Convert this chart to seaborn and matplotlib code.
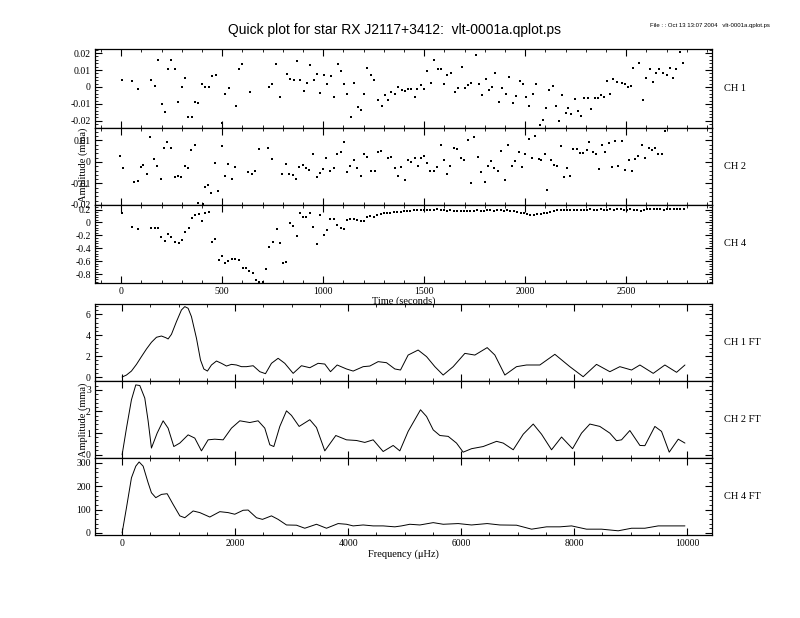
import numpy as np
import pandas as pd
import matplotlib
matplotlib.use("Agg")
import matplotlib.pyplot as plt
import seaborn as sns
from matplotlib.ticker import MultipleLocator, AutoMinorLocator, NullFormatter, FuncFormatter

# ---------------- data ----------------
ch1_t = [5, 53, 82, 148, 165, 181, 200, 216, 231, 248, 267, 282, 299, 315, 332, 348, 365, 381, 398, 417,
         434, 450, 467, 500, 516, 533, 566, 582, 599, 635, 731, 747, 767, 787, 820, 837, 853, 870, 886, 903,
         919, 936, 952, 969, 985, 1005, 1021, 1038, 1054, 1071, 1087, 1104, 1120, 1137, 1153, 1170, 1186, 1203,
         1219, 1236, 1252, 1272, 1289, 1305, 1322, 1338, 1355, 1371, 1388, 1404, 1421, 1437, 1454, 1465, 1482,
         1498, 1516, 1533, 1549, 1566, 1582, 1599, 1615, 1632, 1652, 1668, 1685, 1701, 1718, 1734, 1754, 1771,
         1787, 1804, 1820, 1837, 1853, 1870, 1886, 1903, 1919, 1939, 1956, 1972, 1989, 2005, 2021, 2038, 2054,
         2071, 2087, 2104, 2120, 2137, 2153, 2167, 2183, 2200, 2213, 2229, 2246, 2262, 2276, 2292, 2309, 2325,
         2345, 2361, 2375, 2391, 2404, 2421, 2437, 2454, 2477, 2494, 2510, 2523, 2536, 2563, 2583, 2599, 2616,
         2632, 2649, 2665, 2682, 2702, 2715, 2731, 2748, 2765, 2781]
ch1_v = [0.004, 0.0034, -0.0012, 0.0044, 0.0004, 0.0158, -0.010, -0.0145, 0.0105, 0.0158, 0.0105, -0.0091,
         0.0, 0.0053, -0.0178, -0.0178, -0.0091, -0.0097, 0.0016, -0.0002, -0.0002, 0.0065, 0.0073, -0.021,
         -0.0044, -0.0008, -0.011, 0.0107, 0.0133, -0.003, -0.0002, 0.0018, 0.0133, -0.0059, 0.0077, 0.0046,
         0.0042, 0.0154, 0.0042, -0.0022, 0.0024, 0.0129, 0.0042, 0.0079, -0.0036, 0.0073, 0.0018, 0.0065,
         -0.0061, 0.0133, 0.0093, 0.0016, -0.0044, -0.0178, 0.0022, -0.0117, -0.0137, -0.0044, 0.0111, 0.0071,
         0.004, -0.0079, -0.0115, -0.005, -0.0079, -0.0032, -0.004, -0.0002, -0.002, -0.0024, -0.001, -0.0014,
         -0.0061, -0.0012, 0.001, -0.001, 0.0095, 0.0024, 0.0158, 0.0107, 0.0107, 0.0018, 0.0071, 0.0085,
         -0.0028, -0.0008, 0.0115, -0.0008, 0.0014, 0.0026, 0.0188, 0.0016, -0.005, 0.0048, -0.0016, 0.0,
         0.0081, -0.0091, -0.0006, -0.0042, 0.0057, -0.0095, -0.0055, 0.0034, 0.0016, -0.0057, -0.0113,
         -0.0044, 0.0016, -0.0224, -0.0194, -0.0125, -0.0016, 0.0006, -0.0115, -0.0202, -0.005, -0.0156,
         -0.0125, -0.0158, -0.0069, -0.0141, -0.0174, -0.0063, -0.0063, -0.0129, -0.0067, -0.0063, -0.0048,
         -0.0059, 0.0036, -0.004, 0.0048, 0.0032, 0.0024, 0.002, -0.0002, 0.0008, 0.0109, 0.0139, -0.0079,
         0.0053, 0.0105, 0.0032, 0.0081, 0.0105, 0.0081, 0.0073, 0.0113, 0.0053, 0.0105, 0.0204, 0.0141]

ch2_t = [-5, 10, 61, 82, 96, 110, 129, 144, 162, 178, 195, 211, 228, 244, 264, 281, 297, 314, 330, 347, 363,
         380, 403, 413, 429, 446, 462, 479, 498, 515, 531, 548, 564, 630, 647, 663, 680, 729, 746, 795, 815,
         832, 848, 865, 881, 898, 914, 931, 950, 967, 983, 1000, 1016, 1033, 1053, 1069, 1086, 1102, 1119,
         1135, 1152, 1168, 1185, 1201, 1218, 1238, 1254, 1271, 1287, 1320, 1337, 1353, 1370, 1386, 1403, 1419,
         1436, 1452, 1469, 1482, 1498, 1515, 1531, 1548, 1564, 1581, 1597, 1614, 1630, 1647, 1663, 1680, 1696,
         1716, 1733, 1749, 1766, 1782, 1799, 1815, 1832, 1848, 1865, 1881, 1898, 1914, 1934, 1951, 1967, 1984,
         2000, 2017, 2033, 2050, 2066, 2079, 2096, 2109, 2126, 2142, 2159, 2175, 2192, 2205, 2222, 2238, 2255,
         2271, 2288, 2304, 2317, 2334, 2350, 2367, 2380, 2396, 2413, 2429, 2446, 2462, 2479, 2495, 2512, 2528,
         2545, 2561, 2578, 2594, 2611, 2627, 2644, 2660, 2677, 2693]
ch2_v = [0.003, -0.003, -0.0092, -0.0087, -0.0025, -0.0013, -0.0055, 0.0114, 0.0013, -0.0017, -0.008, 0.0066,
         0.0095, 0.0066, -0.0072, -0.0063, -0.0072, -0.002, -0.003, 0.0056, 0.008, -0.0189, -0.0197, -0.0117,
         -0.0108, -0.0145, -0.0006, -0.0137, 0.0072, -0.0064, -0.0009, -0.0081, -0.0023, -0.0045, -0.0055,
         -0.0042, 0.0059, 0.0063, 0.0014, -0.0055, -0.0011, -0.0055, -0.0061, -0.008, -0.0022, -0.0016, -0.003,
         -0.0036, 0.0038, -0.0072, -0.0052, -0.0031, 0.0017, -0.0042, -0.003, 0.0036, 0.0048, 0.0091, -0.0045,
         -0.0019, 0.0008, -0.003, -0.0063, 0.0039, 0.0022, -0.0041, -0.0041, 0.0047, 0.005, 0.0019, 0.0022,
         -0.003, -0.0066, -0.0023, -0.0086, 0.0009, -0.0002, 0.0017, -0.0017, 0.0019, 0.0028, -0.0005, -0.0044,
         -0.0042, -0.0025, 0.008, 0.0009, -0.0055, -0.0019, 0.0067, 0.0059, 0.0017, 0.0009, 0.010, -0.0097,
         0.0116, 0.0022, -0.0045, -0.0091, -0.0017, 0.0005, -0.0027, -0.0041, 0.0052, -0.0086, 0.0081, -0.0019,
         0.0006, 0.0045, -0.0023, 0.0036, 0.0105, 0.002, 0.0119, 0.0013, 0.0009, 0.0039, -0.0128, 0.0008,
         -0.0014, -0.0017, 0.0072, -0.0069, -0.0027, -0.0064, 0.0059, 0.0059, 0.0042, 0.0042, 0.0055, 0.0091,
         0.0045, 0.0036, -0.0034, 0.008, 0.0045, 0.0088, -0.0025, 0.0098, -0.0019, 0.0098, -0.0036, 0.0011,
         -0.0041, 0.0016, 0.0027, 0.008, 0.002, 0.0067, 0.0055, 0.0063, 0.0039, 0.0036, 0.0142]

ch4_t = [3, 53, 82, 148, 165, 181, 198, 215, 231, 248, 267, 284, 300, 317, 333, 350, 366, 383, 399, 416, 432,
         449, 465, 482, 498, 515, 531, 548, 564, 584, 601, 617, 634, 650, 667, 683, 700, 716, 733, 749, 769,
         785, 802, 818, 835, 851, 868, 884, 901, 917, 934, 950, 967, 983, 1003, 1020, 1036, 1053, 1069, 1086,
         1102, 1119, 1135, 1152, 1168, 1185, 1201, 1218, 1234, 1251, 1267, 1284, 1300, 1317, 1333, 1350, 1366,
         1383, 1399, 1416, 1432, 1449, 1465, 1482, 1498, 1515, 1531, 1548, 1564, 1581, 1597, 1614, 1630, 1647,
         1663, 1680, 1696, 1713, 1729, 1746, 1762, 1779, 1795, 1812, 1828, 1845, 1861, 1878, 1894, 1911, 1927,
         1944, 1960, 1977, 1993, 2010, 2026, 2043, 2059, 2076, 2092, 2109, 2125, 2142, 2158, 2175, 2191, 2208,
         2224, 2241, 2257, 2274, 2290, 2307, 2323, 2340, 2356, 2373, 2389, 2406, 2422, 2439, 2455, 2472, 2488,
         2505, 2521, 2538, 2554, 2571, 2587, 2604, 2620, 2637, 2653, 2670, 2686, 2703, 2719, 2736, 2752, 2769,
         2785]
ch4_v = [0.142, -0.068, -0.10, -0.089, -0.089, -0.089, -0.232, -0.279, -0.174, -0.232, -0.30, -0.321, -0.274,
         -0.153, -0.079, 0.074, 0.11, 0.137, 0.021, 0.153, 0.163, -0.305, -0.258, -0.579, -0.521, -0.626,
         -0.595, -0.568, -0.568, -0.584, -0.70, -0.70, -0.742, -0.784, -0.895, -0.916, -0.916, -0.716, -0.374,
         -0.305, -0.095, -0.311, -0.626, -0.616, -0.005, -0.047, -0.205, 0.142, 0.089, 0.079, 0.147, -0.068,
         -0.332, 0.121, -0.195, -0.116, 0.047, 0.058, -0.037, -0.079, -0.095, 0.037, 0.047, 0.058, 0.032, 0.021,
         0.026, 0.089, 0.105, 0.089, 0.121, 0.126, 0.142, 0.153, 0.153, 0.163, 0.163, 0.168, 0.179, 0.179, 0.179,
         0.189, 0.195, 0.190, 0.195, 0.200, 0.195, 0.200, 0.205, 0.195, 0.190, 0.185, 0.190, 0.180, 0.185,
         0.175, 0.180, 0.185, 0.175, 0.180, 0.190, 0.185, 0.180, 0.190, 0.195, 0.185, 0.190, 0.195, 0.185,
         0.190, 0.180, 0.170, 0.160, 0.150, 0.140, 0.125, 0.110, 0.120, 0.130, 0.125, 0.140, 0.150, 0.165,
         0.175, 0.190, 0.195, 0.190, 0.200, 0.195, 0.190, 0.200, 0.195, 0.190, 0.200, 0.205, 0.195, 0.200,
         0.205, 0.200, 0.195, 0.205, 0.200, 0.210, 0.205, 0.200, 0.195, 0.205, 0.200, 0.190, 0.185, 0.195,
         0.210, 0.215, 0.210, 0.205, 0.210, 0.200, 0.205, 0.210, 0.205, 0.210, 0.205, 0.210]

ft1_f = [0, 77, 165, 254, 342, 431, 519, 608, 696, 773, 814, 873, 962, 1050, 1109, 1168, 1227, 1316, 1387,
         1446, 1510, 1581, 1670, 1758, 1847, 1935, 2024, 2112, 2201, 2319, 2437, 2537, 2643, 2761, 2879, 3027,
         3174, 3322, 3469, 3587, 3688, 3806, 3971, 4089, 4266, 4384, 4531, 4679, 4827, 4927, 5062, 5239, 5388,
         5535, 5682, 5859, 6066, 6243, 6461, 6597, 6774, 6980, 7157, 7393, 7659, 7924, 8160, 8396, 8632, 8809,
         9016, 9164, 9400, 9606, 9813, 9961]
ft1_a = [0.0, 0.19, 0.57, 1.21, 1.95, 2.68, 3.32, 3.80, 3.92, 3.76, 3.64, 4.08, 5.30, 6.41, 6.73, 6.57, 5.77,
         3.70, 1.63, 0.77, 0.57, 1.15, 1.53, 1.31, 1.05, 1.21, 1.15, 0.99, 0.99, 1.08, 0.51, 0.32, 1.31, 1.79,
         1.31, 0.35, 1.08, 0.89, 1.31, 1.24, 0.51, 1.15, 0.77, 0.57, 0.99, 1.05, 1.47, 1.37, 0.77, 0.67, 2.10,
         2.58, 1.95, 0.99, 0.19, 0.99, 2.26, 2.10, 2.81, 2.10, 0.19, 0.99, 1.15, 1.15, 2.17, 0.99, 0.03, 1.21,
         0.51, 0.99, 0.67, 1.15, 0.35, 1.15, 0.45, 1.15]

ft2_f = [0, 77, 165, 242, 313, 401, 460, 519, 620, 726, 814, 915, 1021, 1168, 1286, 1404, 1522, 1640, 1788,
         1935, 2083, 2260, 2407, 2525, 2614, 2685, 2791, 2909, 2997, 3133, 3322, 3440, 3587, 3782, 3971, 4148,
         4295, 4443, 4620, 4797, 4915, 5062, 5281, 5388, 5506, 5624, 5771, 5918, 6036, 6184, 6390, 6627, 6745,
         6922, 7099, 7276, 7423, 7600, 7777, 7972, 8131, 8278, 8455, 8632, 8750, 8839, 8986, 9164, 9252, 9429,
         9547, 9683, 9843, 9961]
ft2_a = [0.0, 1.23, 2.54, 3.23, 3.20, 2.62, 1.57, 0.31, 1.00, 1.57, 1.23, 0.38, 0.54, 0.92, 0.77, 0.18, 0.69,
         0.72, 0.69, 1.23, 1.57, 1.49, 1.57, 1.23, 0.46, 0.38, 1.31, 2.03, 1.82, 1.31, 1.62, 1.26, 0.18, 0.89,
         0.69, 0.66, 0.57, 0.69, 0.15, 0.43, 0.18, 1.08, 2.08, 1.77, 1.15, 0.89, 0.85, 0.54, 0.12, 0.28, 0.38,
         0.62, 0.54, 0.23, 0.95, 1.42, 0.95, 0.23, 0.82, 0.28, 1.00, 1.42, 1.31, 1.00, 0.65, 0.69, 1.12, 0.43,
         0.42, 1.31, 1.08, 0.12, 0.72, 0.54]

ft4_f = [0, 77, 165, 242, 301, 372, 460, 519, 596, 696, 797, 903, 1021, 1109, 1257, 1375, 1552, 1729, 1876,
         1994, 2142, 2230, 2378, 2484, 2643, 2761, 2909, 3086, 3233, 3440, 3617, 3823, 3971, 4089, 4266, 4443,
         4620, 4827, 4944, 5092, 5270, 5506, 5683, 5948, 6184, 6461, 6686, 6981, 7247, 7512, 7748, 7955, 8219,
         8485, 8780, 9016, 9252, 9488, 9754, 9961]
ft4_a = [0, 108, 236, 286, 304, 286, 215, 172, 151, 165, 168, 122, 73, 65, 94, 87, 68, 91, 87, 80, 97, 98, 65,
         58, 73, 58, 34, 33, 20, 37, 20, 40, 37, 30, 34, 30, 30, 26, 30, 37, 34, 44, 37, 40, 34, 40, 34, 33, 16,
         26, 26, 30, 16, 16, 9, 20, 20, 30, 30, 30]

title_text = "Quick plot for star RX J2117+3412:  vlt-0001a.qplot.ps"
stamp_text = "File : : Oct 13 13:07 2004   vlt-0001a.qplot.ps"
time_panels = ["CH 1", "CH 2", "CH 4"]
ft_panels = ["CH 1 FT", "CH 2 FT", "CH 4 FT"]

# ---------------- style ----------------
sns.set_theme(style="ticks")
serif = ["Liberation Serif", "DejaVu Serif"]
plt.rcParams["font.family"] = serif
plt.rcParams["axes.linewidth"] = 0.9
plt.rcParams["axes.edgecolor"] = "black"

fig = plt.figure(figsize=(8.0, 6.18), dpi=100)
L, W = 95 / 800, 617 / 800

def pos(top_px, bot_px):
    return [L, 1 - bot_px / 618, W, (bot_px - top_px) / 618]

time_rows = [(49, 128), (128, 205), (205, 283)]
ft_rows = [(304, 381), (381, 458), (458, 535)]

def style_axis(ax, xmaj, xmin, ymaj, show_x):
    ax.xaxis.set_major_locator(MultipleLocator(xmaj))
    ax.xaxis.set_minor_locator(MultipleLocator(xmin))
    ax.yaxis.set_major_locator(MultipleLocator(ymaj))
    ax.yaxis.set_minor_locator(AutoMinorLocator(5))
    ax.tick_params(which="both", direction="in", top=True, right=True, colors="black",
                   labelsize=7, pad=3)
    ax.tick_params(which="major", length=5, width=0.8)
    ax.tick_params(which="minor", length=2.5, width=0.6)
    if not show_x:
        ax.xaxis.set_major_formatter(NullFormatter())
    for s in ax.spines.values():
        s.set_visible(True)
        s.set_color("black")
    ax.set_xlabel("")
    ax.set_ylabel("")

def yfmt(v, p):
    if abs(v) < 1e-12:
        return "0"
    return "%g" % v

# time series panels
time_data = [(ch1_t, ch1_v, (-0.0242, 0.0224), 0.01),
             (ch2_t, ch2_v, (-0.0200, 0.0158), 0.01),
             (ch4_t, ch4_v, (-0.935, 0.27), 0.2)]
for i, ((t, v, yl, ymaj), (tp, bp)) in enumerate(zip(time_data, time_rows)):
    ax = fig.add_axes(pos(tp, bp))
    df = pd.DataFrame({"t": t, "v": v})
    sns.scatterplot(data=df, x="t", y="v", ax=ax, color="black", s=1.3, marker="s",
                    linewidth=0, legend=False)
    ax.set_xlim(-130, 2925)
    ax.set_ylim(*yl)
    style_axis(ax, 500, 100, ymaj, show_x=(i == 2))
    ax.yaxis.set_major_formatter(FuncFormatter(yfmt))
    ax.text(1.02, 0.5, time_panels[i], transform=ax.transAxes, ha="left", va="center",
            fontsize=7.5, color="black")
    if i == 2:
        ax.set_xlabel("Time (seconds)", fontsize=7.5, labelpad=0, color="black")

# FT panels
ft_data = [(ft1_f, ft1_a, (-0.38, 6.98), 2),
           (ft2_f, ft2_a, (-0.15, 3.41), 1),
           (ft4_f, ft4_a, (-9, 321), 100)]
for i, ((f, a, yl, ymaj), (tp, bp)) in enumerate(zip(ft_data, ft_rows)):
    ax = fig.add_axes(pos(tp, bp))
    df = pd.DataFrame({"f": f, "a": a})
    sns.lineplot(data=df, x="f", y="a", ax=ax, color="black", linewidth=0.7)
    ax.set_xlim(-480, 10440)
    ax.set_ylim(*yl)
    style_axis(ax, 2000, 500, ymaj, show_x=(i == 2))
    ax.yaxis.set_major_formatter(FuncFormatter(yfmt))
    ax.text(1.02, 0.5, ft_panels[i], transform=ax.transAxes, ha="left", va="center",
            fontsize=7.5, color="black")
    if i == 2:
        ax.set_xlabel("Frequency (\u03bcHz)", fontsize=7.5, labelpad=1, color="black")

fig.text(83 / 800, 1 - 165 / 618, "Amplitude (mma)", rotation=90, ha="center", va="center",
         fontsize=7.5, color="black")
fig.text(83 / 800, 1 - 420 / 618, "Amplitude (mma)", rotation=90, ha="center", va="center",
         fontsize=7.5, color="black")
fig.text(394 / 800, 1 - 30 / 618, title_text, ha="center", va="center", fontsize=10,
         family=["Liberation Sans", "DejaVu Sans"], color="black")
fig.text(770 / 800, 1 - 26 / 618, stamp_text, ha="right", va="center", fontsize=4.3,
         family=["Liberation Sans", "DejaVu Sans"], color="black")

fig.savefig("out.png", dpi=100, facecolor="white")
